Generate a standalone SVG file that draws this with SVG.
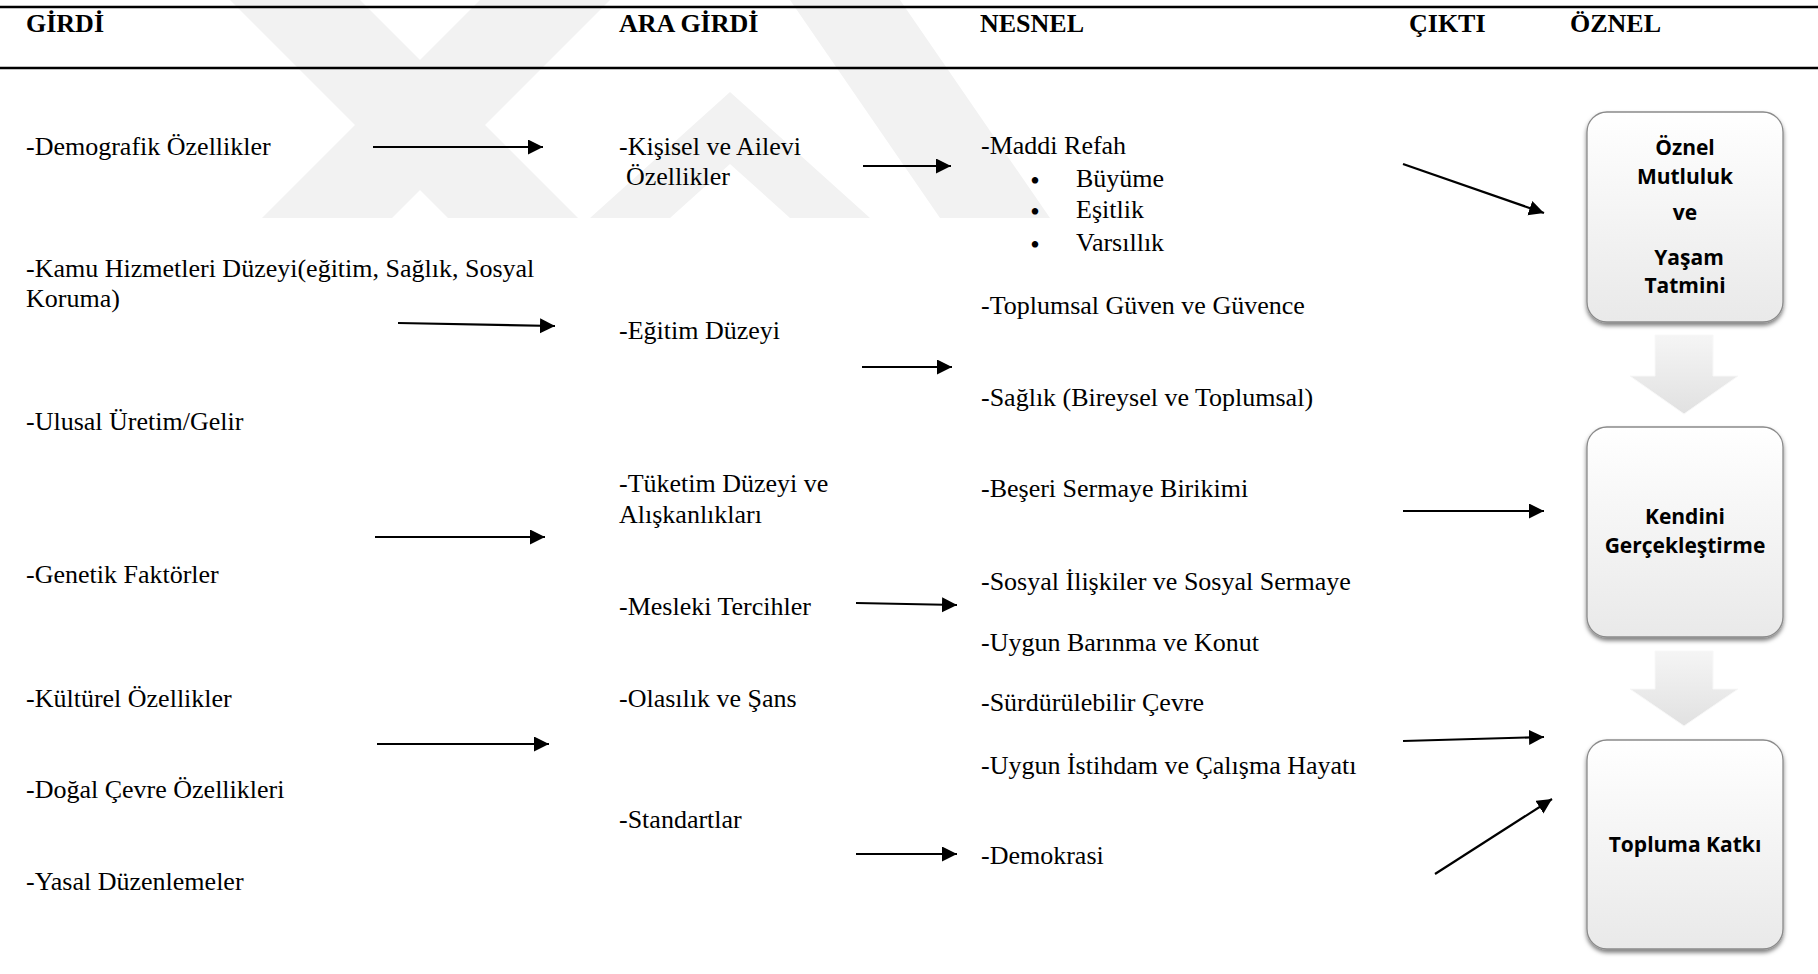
<svg xmlns="http://www.w3.org/2000/svg" width="1818" height="974" viewBox="0 0 1818 974">
  <style>
    .t { font-family: "Liberation Serif", "Times New Roman", serif; font-size: 26px; fill: #000; }
    .bul { font-family: "Liberation Serif", "Times New Roman", serif; font-size: 27px; fill: #000; text-anchor: middle; }
    .h { font-family: "Liberation Serif", "Times New Roman", serif; font-size: 26px; font-weight: bold; fill: #000; }
    .b { font-family: "Open Sans", "Liberation Sans", sans-serif; font-size: 21px; font-weight: bold; fill: #000; text-anchor: middle; }
    .rule { stroke: #000; stroke-width: 2.5; }
    .wm { fill: #f2f2f2; }
    .conn { stroke: #000; stroke-width: 2.2; fill: none; marker-end: url(#ah); }
    .box { fill: url(#boxg); stroke: #8a8a8a; stroke-width: 1.3; filter: url(#sh); }
    .blk { fill: url(#blkg); stroke: #f8f8f8; stroke-width: 1; }
  </style>
  <defs>
    <marker id="ah" markerUnits="userSpaceOnUse" markerWidth="16" markerHeight="16" refX="15" refY="7.5" orient="auto">
      <path d="M0,0 L15,7.5 L0,15 Z" fill="#000"/>
    </marker>
    <linearGradient id="boxg" x1="0" y1="0" x2="0" y2="1">
      <stop offset="0" stop-color="#ffffff"/>
      <stop offset="1" stop-color="#e9e9e9"/>
    </linearGradient>
    <linearGradient id="blkg" x1="0" y1="0" x2="0" y2="1">
      <stop offset="0" stop-color="#f5f5f5"/>
      <stop offset="1" stop-color="#e1e1e1"/>
    </linearGradient>
    <filter id="sh" x="-10%" y="-10%" width="120%" height="125%">
      <feDropShadow dx="0" dy="3" stdDeviation="2" flood-color="#000" flood-opacity="0.5"/>
    </filter>
  </defs>
  <rect x="0" y="0" width="1818" height="974" fill="#fff"/>

  <g id="watermark">
    <polygon class="wm" points="230,0 360,0 578,218 448,218"/>
    <polygon class="wm" points="480,0 610,0 392,218 262,218"/>
    <polygon class="wm" points="730,92 870,218 790,218 730,164 670,218 590,218"/>
    <polygon class="wm" points="790,0 900,0 1050,218 940,218"/>
  </g>

  <g id="header">
    <line class="rule" x1="0" y1="7" x2="1818" y2="7"/>
    <line class="rule" x1="0" y1="68" x2="1818" y2="68"/>
    <text class="h" x="26" y="32">GİRDİ</text>
    <text class="h" x="619" y="32">ARA GİRDİ</text>
    <text class="h" x="980" y="32">NESNEL</text>
    <text class="h" x="1409" y="32">ÇIKTI</text>
    <text class="h" x="1570" y="32">ÖZNEL</text>
  </g>

  <g id="girdi">
    <text class="t" x="26" y="155">-Demografik Özellikler</text>
    <text class="t" x="26" y="277">-Kamu Hizmetleri Düzeyi(eğitim, Sağlık, Sosyal</text>
    <text class="t" x="26" y="307">Koruma)</text>
    <text class="t" x="26" y="430">-Ulusal Üretim/Gelir</text>
    <text class="t" x="26" y="583">-Genetik Faktörler</text>
    <text class="t" x="26" y="707">-Kültürel Özellikler</text>
    <text class="t" x="26" y="798">-Doğal Çevre Özellikleri</text>
    <text class="t" x="26" y="890">-Yasal Düzenlemeler</text>
  </g>

  <g id="ara-girdi">
    <text class="t" x="619" y="155">-Kişisel ve Ailevi</text>
    <text class="t" x="626" y="185">Özellikler</text>
    <text class="t" x="619" y="339">-Eğitim Düzeyi</text>
    <text class="t" x="619" y="492">-Tüketim Düzeyi ve</text>
    <text class="t" x="619" y="523">Alışkanlıkları</text>
    <text class="t" x="619" y="615">-Mesleki Tercihler</text>
    <text class="t" x="619" y="707">-Olasılık ve Şans</text>
    <text class="t" x="619" y="828">-Standartlar</text>
  </g>

  <g id="nesnel">
    <text class="t" x="981" y="154">-Maddi Refah</text>
    <text class="bul" x="1035" y="190">•</text>
    <text class="t" x="1076" y="187">Büyüme</text>
    <text class="bul" x="1035" y="221">•</text>
    <text class="t" x="1076" y="218">Eşitlik</text>
    <text class="bul" x="1035" y="254">•</text>
    <text class="t" x="1076" y="251">Varsıllık</text>
    <text class="t" x="981" y="314">-Toplumsal Güven ve Güvence</text>
    <text class="t" x="981" y="406">-Sağlık (Bireysel ve Toplumsal)</text>
    <text class="t" x="981" y="497">-Beşeri Sermaye Birikimi</text>
    <text class="t" x="981" y="590">-Sosyal İlişkiler ve Sosyal Sermaye</text>
    <text class="t" x="981" y="651">-Uygun Barınma ve Konut</text>
    <text class="t" x="981" y="711">-Sürdürülebilir Çevre</text>
    <text class="t" x="981" y="774">-Uygun İstihdam ve Çalışma Hayatı</text>
    <text class="t" x="981" y="864">-Demokrasi</text>
  </g>

  <g id="connectors">
    <line class="conn" x1="373" y1="147" x2="543" y2="147"/>
    <line class="conn" x1="863" y1="166" x2="951" y2="166"/>
    <line class="conn" x1="398" y1="323" x2="555" y2="326"/>
    <line class="conn" x1="862" y1="367" x2="952" y2="367"/>
    <line class="conn" x1="375" y1="537" x2="545" y2="537"/>
    <line class="conn" x1="856" y1="603" x2="957" y2="605"/>
    <line class="conn" x1="377" y1="744" x2="549" y2="744"/>
    <line class="conn" x1="856" y1="854" x2="957" y2="854"/>
    <line class="conn" x1="1403" y1="164" x2="1544" y2="213"/>
    <line class="conn" x1="1403" y1="511" x2="1544" y2="511"/>
    <line class="conn" x1="1403" y1="741" x2="1544" y2="737"/>
    <line class="conn" x1="1435" y1="874" x2="1552" y2="799"/>
    <polygon class="blk" points="1655,335 1713,335 1713,376 1738,376 1684,414 1630,376 1655,376"/>
    <polygon class="blk" points="1655,651 1713,651 1713,689 1738,689 1684,726 1630,689 1655,689"/>
  </g>

  <g id="oznel-mutluluk">
    <rect class="box" x="1587" y="112" width="196" height="210" rx="20" ry="20"/>
    <text class="b" x="1685" y="155">Öznel</text>
    <text class="b" x="1685" y="184">Mutluluk</text>
    <text class="b" x="1685" y="220">ve</text>
    <text class="b" x="1689" y="265">Yaşam</text>
    <text class="b" x="1685" y="293">Tatmini</text>
  </g>

  <g id="kendini-gerceklestirme">
    <rect class="box" x="1587" y="427" width="196" height="210" rx="20" ry="20"/>
    <text class="b" x="1685" y="524">Kendini</text>
    <text class="b" x="1685" y="553">Gerçekleştirme</text>
  </g>

  <g id="topluma-katki">
    <rect class="box" x="1587" y="740" width="196" height="209" rx="20" ry="20"/>
    <text class="b" x="1685" y="852">Topluma Katkı</text>
  </g>
</svg>
